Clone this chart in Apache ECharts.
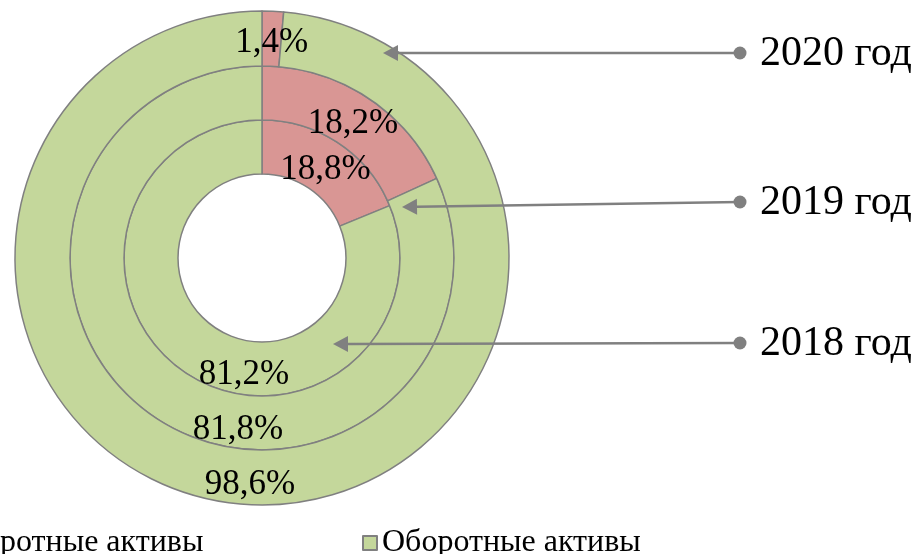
<!DOCTYPE html>
<html>
<head>
<meta charset="utf-8">
<script src="https://cdn.jsdelivr.net/npm/echarts@6/dist/echarts.min.js"></script>
<style>
html, body { margin: 0; padding: 0; background: #fff; }
#chart { width: 921px; height: 554px; }
</style>
</head>
<body>
<div id="chart"></div>
<script>
// данные по годам (внеоборотные / оборотные, %)
var categories = ['Внеоборотные активы', 'Оборотные активы'];
var years = ['2018 год', '2019 год', '2020 год'];
var nonCurrent = [18.8, 18.2, 1.4];
var current = [81.2, 81.8, 98.6];

var colors = ['#d99694', '#c4d79b'];
var cx = 262, cy = 258;
var rings = [[84, 138], [138, 192], [192, 247]];
// где стоит подпись оборотных активов: смещение от центра
var greenLabelPos = [[-18, 117], [-24, 172], [-12, 227]];

var series = [];
for (var i = 0; i < years.length; i++) {
  (function (i) {
    series.push({
      name: years[i],
      type: 'pie',
      center: [cx, cy],
      radius: rings[i],
      startAngle: 90,
      clockwise: true,
      animation: false,
      silent: true,
      z: 1,
      itemStyle: { borderColor: '#808080', borderWidth: 1.5 },
      label: {
        show: true,
        position: 'inside',
        color: '#000',
        fontFamily: 'Liberation Serif',
        fontSize: 35,
        formatter: function (p) { return String(p.value).replace('.', ',') + '%'; }
      },
      labelLine: { show: false },
      labelLayout: function (p) {
        if (p.dataIndex === 1) {
          return { x: cx + greenLabelPos[i][0], y: cy + greenLabelPos[i][1] };
        }
        return {
          x: p.labelRect.x + p.labelRect.width / 2,
          y: p.labelRect.y + p.labelRect.height / 2 + 7
        };
      },
      data: [
        { name: categories[0], value: nonCurrent[i], itemStyle: { color: colors[0] } },
        { name: categories[1], value: current[i], itemStyle: { color: colors[1] } }
      ]
    });
  })(i);
}

// стрелки-выноски
var arrows = [
  { text: '2020 год', from: [740, 53], to: [383, 53] },
  { text: '2019 год', from: [740, 202], to: [402, 207] },
  { text: '2018 год', from: [740, 343], to: [333, 344] }
];
var graphic = [];
arrows.forEach(function (a) {
  var dx = a.from[0] - a.to[0], dy = a.from[1] - a.to[1];
  var len = Math.sqrt(dx * dx + dy * dy);
  var ux = dx / len, uy = dy / len;
  var hl = 15, hw = 8;
  var bx = a.to[0] + ux * hl, by = a.to[1] + uy * hl;
  graphic.push({
    type: 'line', silent: true, z: 100,
    shape: { x1: a.from[0], y1: a.from[1], x2: bx, y2: by },
    style: { stroke: '#808080', lineWidth: 2.5 }
  });
  graphic.push({
    type: 'polygon', silent: true, z: 100,
    shape: { points: [[a.to[0], a.to[1]], [bx - uy * hw, by + ux * hw], [bx + uy * hw, by - ux * hw]] },
    style: { fill: '#808080' }
  });
  graphic.push({
    type: 'circle', silent: true, z: 100,
    shape: { cx: a.from[0], cy: a.from[1], r: 6.5 },
    style: { fill: '#808080' }
  });
  graphic.push({
    type: 'text', silent: true, z: 100,
    x: 760, y: a.from[1] + 1,
    style: { text: a.text, fill: '#000', font: '42px "Liberation Serif"', verticalAlign: 'middle' }
  });
});

var legendText = { fontFamily: 'Liberation Serif', fontSize: 32, color: '#000' };
var chart = echarts.init(document.getElementById('chart'));
chart.setOption({
  animation: false,
  legend: [
    {
      data: [categories[0]], left: -126, top: 522,
      itemWidth: 14, itemHeight: 14, itemGap: 6, icon: 'rect',
      textStyle: legendText
    },
    {
      data: [categories[1]], left: 357, top: 522,
      itemWidth: 14, itemHeight: 14, itemGap: 6, icon: 'rect',
      textStyle: legendText
    }
  ],
  series: series,
  graphic: graphic
});
</script>
</body>
</html>
